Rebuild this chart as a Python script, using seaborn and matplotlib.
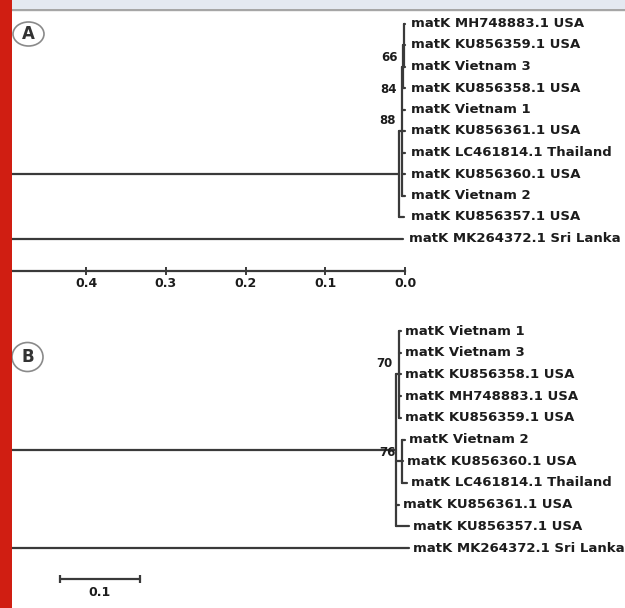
import matplotlib
matplotlib.use("Agg")
import matplotlib.pyplot as plt
from matplotlib.patches import Rectangle, Ellipse
from matplotlib.lines import Line2D
import pandas as pd
import seaborn as sns

# ---------------------------------------------------------
# Data: two matK trees (A: distance tree, B: bootstrap tree)
# depth = distance from the tips (0.0 on the right)
# ---------------------------------------------------------
tips_a = [
    "matK MH748883.1 USA",
    "matK KU856359.1 USA",
    "matK Vietnam 3",
    "matK KU856358.1 USA",
    "matK Vietnam 1",
    "matK KU856361.1 USA",
    "matK LC461814.1 Thailand",
    "matK KU856360.1 USA",
    "matK Vietnam 2",
    "matK KU856357.1 USA",
    "matK MK264372.1 Sri Lanka",
]
tip_depth_a = [0.0, 0.0, 0.0, 0.0, 0.0, 0.0, 0.0, 0.0, 0.0, 0.001, 0.0025]
# clade name -> (node depth, children, bootstrap, row of bootstrap label)
clades_a = {
    "c66": (0.0009, [0, 1, 2], 66, 1.56),
    "c84": (0.0025, ["c66", 3], 84, 3.05),
    "c88": (0.0035, ["c84", 4, 5, 6, 7, 8], 88, 4.5),
    "ingroup": (0.0071, ["c88", 9], None, None),
    "root": (0.6, ["ingroup", 10], None, None),
}
axis_ticks_a = [0.4, 0.3, 0.2, 0.1, 0.0]

tips_b = [
    "matK Vietnam 1",
    "matK Vietnam 3",
    "matK KU856358.1 USA",
    "matK MH748883.1 USA",
    "matK KU856359.1 USA",
    "matK Vietnam 2",
    "matK KU856360.1 USA",
    "matK LC461814.1 Thailand",
    "matK KU856361.1 USA",
    "matK KU856357.1 USA",
    "matK MK264372.1 Sri Lanka",
]
tip_depth_b = [0.005, 0.005, 0.005, 0.005, 0.005, 0.0, 0.0025, -0.0025, 0.0075, -0.005, -0.005]
clades_b = {
    "c70": (0.0075, [0, 1, 2, 3, 4], 70, 1.52),
    "c76": (0.0038, [5, 6, 7], 76, 5.58),
    "ingroup": (0.0113, ["c70", "c76", 8, 9], None, None),
    "root": (0.6, ["ingroup", 10], None, None),
}
scale_bar_b = 0.1

# ---------------------------------------------------------
# Layout helpers (pixels of the 625x608 picture)
# ---------------------------------------------------------
W, H = 625, 608
X0_PX, PX_PER_UNIT = 405, 797
LINE = "#3a3a3a"
TXT = "#1c1c1c"

sns.set_theme(style="white")
plt.rcParams["font.family"] = ["DejaVu Sans"]


def px_to_depth(x):
    return (X0_PX - x) / PX_PER_UNIT


def tree_segments(tip_depth, clades, root="root"):
    node_x = {i: d for i, d in enumerate(tip_depth)}
    node_y = {i: float(i) for i in range(len(tip_depth))}
    segs = []

    def place(name):
        if isinstance(name, int):
            return
        depth, kids = clades[name][0], clades[name][1]
        for k in kids:
            place(k)
        ys = [node_y[k] for k in kids]
        node_x[name] = depth
        node_y[name] = (min(ys) + max(ys)) / 2
        segs.append([(depth, min(ys)), (depth, max(ys))])
        for k in kids:
            segs.append([(depth, node_y[k]), (node_x[k], node_y[k])])

    place(root)
    rows = []
    for sid, seg in enumerate(segs):
        for x, y in seg:
            rows.append({"seg": sid, "depth": x, "row": y})
    return pd.DataFrame(rows), node_x, node_y


def draw_tree(ax, tips, tip_depth, clades, label_pad):
    df, node_x, node_y = tree_segments(tip_depth, clades)
    sns.lineplot(data=df, x="depth", y="row", units="seg", estimator=None,
                 sort=False, color=LINE, linewidth=1.6, ax=ax)
    for i, name in enumerate(tips):
        ax.text(tip_depth[i] - label_pad, i, name, ha="left", va="center",
                fontsize=9.5, fontweight="bold", color=TXT)
    for name, (depth, kids, boot, brow) in clades.items():
        if boot is not None:
            ax.text(depth + 0.008, brow, str(boot), ha="right", va="center",
                    fontsize=8.5, fontweight="bold", color=TXT)
    ax.set_xlabel("")
    ax.set_ylabel("")


fig = plt.figure(figsize=(W / 100, H / 100), dpi=100)
fig.patch.set_facecolor("white")


def panel_axes(top_px, bottom_px, row0_px, row_px):
    ax = fig.add_axes([12 / W, 1 - bottom_px / H, (W - 12) / W, (bottom_px - top_px) / H])
    ax.set_facecolor("none")
    return ax, ((bottom_px - row0_px) / row_px, (top_px - row0_px) / row_px)


# ---------------------------------------------------------
# Panel A
# ---------------------------------------------------------
ax_a, ylim_a = panel_axes(13, 270.5, 23.5, 21.5)
draw_tree(ax_a, tips_a, tip_depth_a, clades_a, 0.008)
ax_a.set_xlim(px_to_depth(12), px_to_depth(W))
ax_a.set_ylim(*ylim_a)
for s in ["top", "right", "left"]:
    ax_a.spines[s].set_visible(False)
ax_a.spines["bottom"].set_color(LINE)
ax_a.spines["bottom"].set_linewidth(1.6)
ax_a.spines["bottom"].set_bounds(0.0, px_to_depth(12))
ax_a.set_yticks([])
ax_a.set_xticks(axis_ticks_a)
ax_a.set_xticklabels([f"{t:.1f}" for t in axis_ticks_a], fontweight="bold", color=TXT)
ax_a.tick_params(axis="x", direction="inout", length=6, width=1.4, color=LINE,
                 pad=2, labelsize=9, bottom=True)

# ---------------------------------------------------------
# Panel B
# ---------------------------------------------------------
ax_b, ylim_b = panel_axes(300, H, 331, 21.7)
draw_tree(ax_b, tips_b, tip_depth_b, clades_b, 0.005)
bar_start = px_to_depth(60)
bar_row = (579 - 331) / 21.7
ax_b.plot([bar_start, bar_start - scale_bar_b], [bar_row, bar_row], color=LINE,
          lw=1.6, marker="|", markersize=6, markeredgewidth=1.6)
ax_b.text(bar_start - scale_bar_b / 2, bar_row + 0.62, f"{scale_bar_b:.1f}", ha="center",
          va="center", fontsize=9, fontweight="bold", color=TXT)
ax_b.set_xlim(px_to_depth(12), px_to_depth(W))
ax_b.set_ylim(*ylim_b)
ax_b.axis("off")

# ---------------------------------------------------------
# Page decoration: top band, red side bar, panel letters
# ---------------------------------------------------------
fig.patches.append(Rectangle((0, 1 - 8.5 / H), 1, 8.5 / H, transform=fig.transFigure,
                             facecolor="#e4e9f1", edgecolor="none", zorder=1))
fig.lines.append(Line2D([0, 1], [1 - 10 / H] * 2, transform=fig.transFigure,
                        color="#a6a6a6", lw=1.7, zorder=1))
for letter, cx, cy, ew, eh in [("A", 28.5, 34, 31, 24), ("B", 27.5, 357, 31, 29)]:
    fig.patches.append(Ellipse((cx / W, 1 - cy / H), ew / W, eh / H, transform=fig.transFigure,
                               facecolor="white", edgecolor="#8a8a8a", lw=1.2, zorder=1))
    fig.text(cx / W, 1 - cy / H, letter, ha="center", va="center", fontsize=12,
             fontweight="bold", color="#333333")
fig.patches.append(Rectangle((0, 0), 11.5 / W, 1, transform=fig.transFigure,
                             facecolor="#d01e12", edgecolor="none", zorder=2))

fig.savefig("out.png", dpi=100)
